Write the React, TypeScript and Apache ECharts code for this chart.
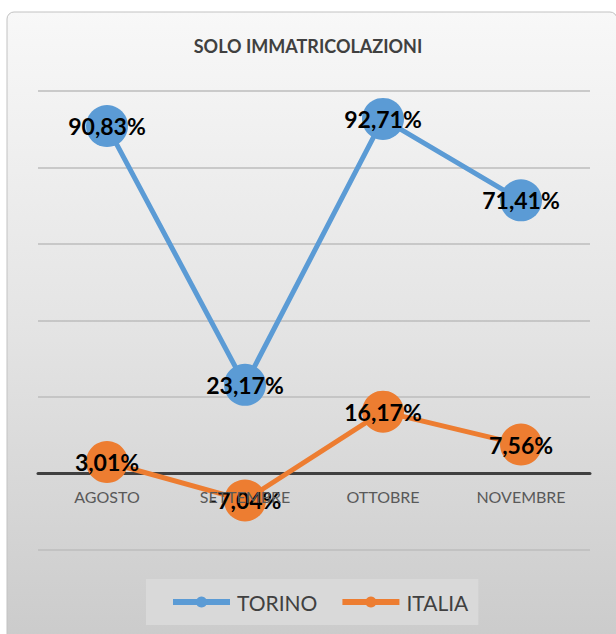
import React, { useEffect, useRef } from "react";
import * as echarts from "echarts";

const categories = ["AGOSTO", "SETTEMBRE", "OTTOBRE", "NOVEMBRE"];
const torino = [90.83, 23.17, 92.71, 71.41];
const italia = [3.01, -7.04, 16.17, 7.56];
const seriesNames = ["TORINO", "ITALIA"];
const yMin = -20;
const yMax = 100;
const yStep = 20;
const titleText = "SOLO IMMATRICOLAZIONI";

const FONT = "Lato, 'Open Sans', sans-serif";
const fmt = (v: number) => v.toFixed(2).replace(".", ",") + "%";

export default function App() {
  const ref = useRef<HTMLDivElement>(null);
  useEffect(() => {
    if (!ref.current) return;
    const chart = echarts.init(ref.current, undefined, { renderer: "svg" });
    const H = 634;
    const gridTop = 91;
    const gridBottom = 84;
    const plotH = H - gridTop - gridBottom;
    const zeroY = gridTop + (yMax / (yMax - yMin)) * plotH;
    const labelStyle = {
      show: true,
      position: "inside" as const,
      fontFamily: FONT,
      fontSize: 23,
      fontWeight: "bold" as const,
      color: "#000000",
      formatter: (p: any) => fmt(p.value),
    };
    chart.setOption({
      animation: false,
      graphic: [
        {
          type: "rect",
          z: -10,
          silent: true,
          shape: { x: 7, y: 12, width: 610, height: 630, r: 7 },
          style: {
            fill: new echarts.graphic.LinearGradient(0, 0, 0, 1, [
              { offset: 0, color: "#f8f8f8" },
              { offset: 0.5, color: "#e4e4e4" },
              { offset: 1, color: "#cbcbcb" },
            ]),
            stroke: "#c2c2c2",
            lineWidth: 1,
          },
        },
      ],
      title: {
        text: titleText,
        left: "center",
        top: 37,
        padding: 0,
        textStyle: {
          fontFamily: FONT,
          fontSize: 18,
          fontWeight: "bold",
          color: "#404040",
        },
      },
      legend: {
        data: seriesNames,
        left: 146,
        top: 579,
        orient: "horizontal",
        backgroundColor: "#d9d9d9",
        padding: [12, 10, 12, 24],
        itemWidth: 57,
        itemHeight: 14,
        itemGap: 22,
        lineStyle: { width: 6 },
        textStyle: {
          fontFamily: FONT,
          fontSize: 21,
          color: "#404040",
          lineHeight: 22,
          padding: [0, 0, 0, 2],
        },
      },
      grid: [
        { left: 38, right: 26, top: gridTop, bottom: gridBottom },
        { left: 38, right: 26, top: gridTop, bottom: H - zeroY },
      ],
      xAxis: [
        {
          type: "category",
          gridIndex: 0,
          data: categories,
          boundaryGap: true,
          axisLine: { show: true, onZero: true, lineStyle: { color: "#404040", width: 3 } },
          axisTick: { show: false },
          axisLabel: { show: false },
          splitLine: { show: false },
        },
        {
          type: "category",
          gridIndex: 1,
          data: categories,
          boundaryGap: true,
          z: 5,
          axisLine: { show: false, onZero: false },
          axisTick: { show: false },
          axisLabel: {
            show: true,
            margin: 15,
            fontFamily: FONT,
            fontSize: 16,
            color: "#595959",
          },
          splitLine: { show: false },
        },
      ],
      yAxis: [
        {
          type: "value",
          gridIndex: 0,
          min: yMin,
          max: yMax,
          interval: yStep,
          axisLine: { show: false },
          axisTick: { show: false },
          axisLabel: { show: false },
          splitLine: { show: true, lineStyle: { color: "#bdbdbd", width: 1.5 } },
        },
        {
          type: "value",
          gridIndex: 1,
          min: 0,
          max: yMax,
          interval: yStep,
          show: false,
        },
      ],
      series: [
        {
          name: seriesNames[0],
          type: "line",
          xAxisIndex: 0,
          yAxisIndex: 0,
          data: torino,
          symbol: "circle",
          symbolSize: 42,
          color: "#5b9bd5",
          lineStyle: { color: "#5b9bd5", width: 5 },
          itemStyle: { color: "#5b9bd5" },
          label: labelStyle,
        },
        {
          name: seriesNames[1],
          type: "line",
          xAxisIndex: 0,
          yAxisIndex: 0,
          data: italia,
          symbol: "circle",
          symbolSize: 42,
          color: "#ed7d31",
          lineStyle: { color: "#ed7d31", width: 5 },
          itemStyle: { color: "#ed7d31" },
          label: labelStyle,
        },
      ],
    });
    return () => chart.dispose();
  }, []);
  return (
    <div
      ref={ref}
      style={{ position: "absolute", left: 0, top: 0, width: 616, height: 634, background: "#ffffff" }}
    />
  );
}
